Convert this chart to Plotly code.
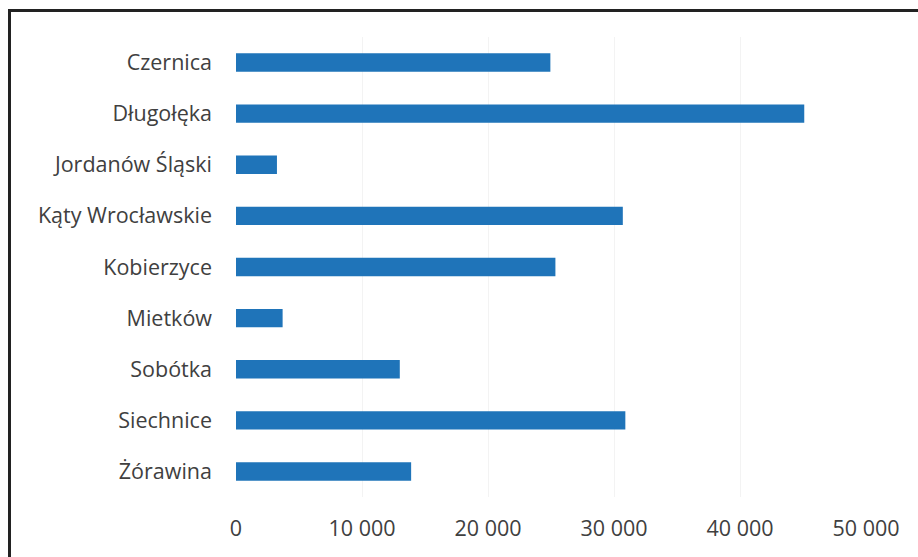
import plotly.graph_objects as go

# Communes (top to bottom) and their values
gminy = ["Czernica", "Długołęka", "Jordanów Śląski", "Kąty Wrocławskie",
         "Kobierzyce", "Mietków", "Sobótka", "Siechnice", "Żórawina"]
wartosci = [24950, 45100, 3250, 30700, 25350, 3700, 13000, 30900, 13900]

# Value axis ticks
tick_vals = [0, 10000, 20000, 30000, 40000, 50000]
tick_text = ["0", "10 000", "20 000", "30 000", "40 000", "50 000"]

W, H = 918, 557
L, R, T, B = 236, 52, 37, 60

fig = go.Figure(go.Bar(
    x=wartosci, y=gminy, orientation="h",
    marker=dict(color="#1f74b9", line=dict(width=0)),
    width=0.36,
))

font_family = "'Open Sans', Lato, sans-serif"

fig.update_layout(
    width=W, height=H,
    margin=dict(l=L, r=R, t=T, b=B),
    paper_bgcolor="white", plot_bgcolor="white",
    showlegend=False,
    font=dict(family=font_family, size=21.5, color="#404040"),
    xaxis=dict(range=[0, 50000], tickvals=tick_vals, ticktext=tick_text,
               showgrid=True, gridcolor="#f3f3f3", gridwidth=1,
               zeroline=False, showline=False, ticks="",
               ticklabelstandoff=16, fixedrange=True),
    yaxis=dict(categoryorder="array", categoryarray=gminy[::-1],
               showgrid=False, zeroline=False, showline=False, ticks="",
               ticklabelstandoff=23, fixedrange=True),
)

# Dark frame around the chart (left and top edges visible)
pw, ph = W - L - R, H - T - B
def px(x): return (x - L) / pw
def py(y): return (H - B - y) / ph

fig.add_shape(type="line", xref="paper", yref="paper",
              x0=px(9.5), y0=py(H + 5), x1=px(9.5), y1=py(10.5),
              line=dict(color="#222222", width=3))
fig.add_shape(type="line", xref="paper", yref="paper",
              x0=px(8), y0=py(10.5), x1=px(W + 5), y1=py(10.5),
              line=dict(color="#222222", width=3))

fig.write_html("out.html")
